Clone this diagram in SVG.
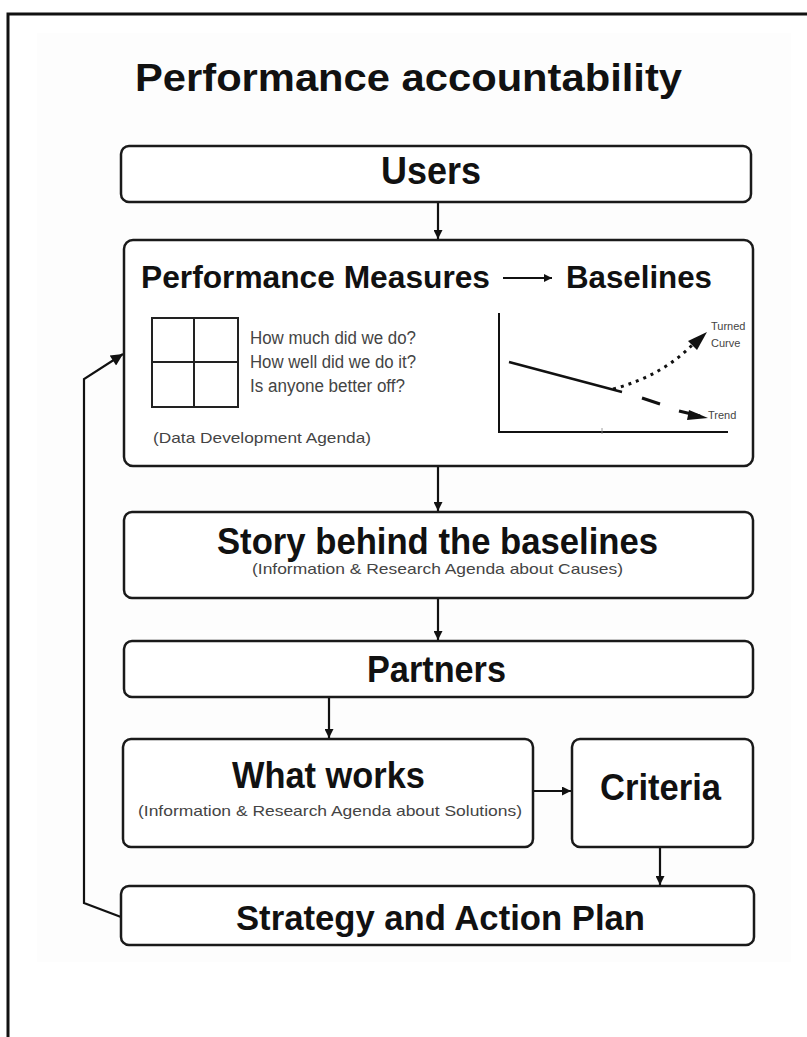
<svg xmlns="http://www.w3.org/2000/svg" width="807" height="1037" viewBox="0 0 807 1037">
<defs>
<style>
.box{fill:#fff;stroke:#1a1a1a;stroke-width:2.5}
.big{font-family:"Liberation Sans",Arial,sans-serif;font-weight:bold;fill:#111}
.small{font-family:"Liberation Sans",Arial,sans-serif;fill:#444}
.conn{fill:none;stroke:#111;stroke-width:2.2}
</style>
<marker id="ah" viewBox="0 0 10 10" refX="10" refY="5" markerWidth="12" markerHeight="9" markerUnits="userSpaceOnUse" orient="auto">
<path d="M0,0 L10,5 L0,10 Z" fill="#111"/>
</marker>
<marker id="ahb" viewBox="0 0 10 10" refX="10" refY="5" markerWidth="16" markerHeight="12" markerUnits="userSpaceOnUse" orient="auto">
<path d="M0,0 L10,5 L0,10 Z" fill="#111"/>
</marker>
<marker id="ahs" viewBox="0 0 10 10" refX="10" refY="5" markerWidth="5" markerHeight="4" orient="auto">
<path d="M0,0 L10,5 L0,10 Z" fill="#111"/>
</marker>
</defs>
<rect x="0" y="0" width="807" height="1037" fill="#fff"/>
<rect x="37" y="33" width="754" height="929" fill="#fdfdfd"/>
<rect x="8" y="14" width="1000" height="1200" fill="none" stroke="#111" stroke-width="3"/>
<text class="big" x="135" y="91" font-size="38" textLength="547" lengthAdjust="spacingAndGlyphs">Performance accountability</text>

<g id="connectors">
<line class="conn" x1="438" y1="202" x2="438" y2="239" marker-end="url(#ah)"/>
<line class="conn" x1="438" y1="466" x2="438" y2="511" marker-end="url(#ah)"/>
<line class="conn" x1="438" y1="598" x2="438" y2="640" marker-end="url(#ah)"/>
<line class="conn" x1="329" y1="697" x2="329" y2="738" marker-end="url(#ah)"/>
<line class="conn" x1="533" y1="791" x2="571" y2="791" marker-end="url(#ah)"/>
<line class="conn" x1="660" y1="847" x2="660" y2="885" marker-end="url(#ah)"/>
<polyline class="conn" stroke-width="3" points="121,917 84,903 84,379 123,354" marker-end="url(#ahb)"/>
</g>

<g id="users">
<rect class="box" x="121" y="146" width="630" height="56" rx="8"/>
<text class="big" x="381" y="184" font-size="38" textLength="100" lengthAdjust="spacingAndGlyphs">Users</text>
</g>

<g id="performance">
<rect class="box" x="124" y="240" width="629" height="226" rx="9"/>
<text class="big" x="141" y="288" font-size="32" textLength="349" lengthAdjust="spacingAndGlyphs">Performance Measures</text>
<line x1="503" y1="278" x2="552" y2="278" stroke="#111" stroke-width="2" marker-end="url(#ahs)"/>
<text class="big" x="566" y="288" font-size="32" textLength="146" lengthAdjust="spacingAndGlyphs">Baselines</text>
<g fill="none" stroke="#222" stroke-width="2">
<rect x="152" y="318" width="86" height="89"/>
<line x1="194" y1="318" x2="194" y2="407"/>
<line x1="152" y1="362" x2="238" y2="362"/>
</g>
<text class="small" x="250" y="344" font-size="18" textLength="166" lengthAdjust="spacingAndGlyphs">How much did we do?</text>
<text class="small" x="250" y="368" font-size="18" textLength="166" lengthAdjust="spacingAndGlyphs">How well did we do it?</text>
<text class="small" x="250" y="392" font-size="18" textLength="155" lengthAdjust="spacingAndGlyphs">Is anyone better off?</text>
<text class="small" x="153" y="443" font-size="15" textLength="218" lengthAdjust="spacingAndGlyphs">(Data Development Agenda)</text>
<g fill="none" stroke="#111">
<polyline points="499,313 499,432 728,432" stroke-width="2"/>
<line x1="602" y1="428" x2="602" y2="434" stroke-width="0.8" stroke="#888"/>
<line x1="509" y1="362" x2="622" y2="392" stroke-width="2.5"/>
<path d="M613,389 Q665,375 696,341" stroke-width="3" stroke-dasharray="3 5"/>
<line x1="642" y1="398" x2="660" y2="404" stroke-width="3"/>
<line x1="679" y1="411" x2="700" y2="416" stroke-width="3"/>
</g>
<path d="M707,332 L688,341 L697,350 Z" fill="#111"/>
<path d="M708,418 L689,410 L687,420 Z" fill="#111"/>
<text class="small" x="711" y="330" font-size="11" fill="#333">Turned</text>
<text class="small" x="711" y="347" font-size="11" fill="#333">Curve</text>
<text class="small" x="708" y="419" font-size="11" fill="#333">Trend</text>
</g>

<g id="story">
<rect class="box" x="124" y="512" width="629" height="86" rx="8"/>
<text class="big" x="217" y="554" font-size="36" textLength="441" lengthAdjust="spacingAndGlyphs">Story behind the baselines</text>
<text class="small" x="252" y="574" font-size="15" textLength="371" lengthAdjust="spacingAndGlyphs">(Information &amp; Research Agenda about Causes)</text>
</g>

<g id="partners">
<rect class="box" x="124" y="641" width="629" height="56" rx="8"/>
<text class="big" x="367" y="682" font-size="36" textLength="139" lengthAdjust="spacingAndGlyphs">Partners</text>
</g>

<g id="whatworks">
<rect class="box" x="123" y="739" width="410" height="108" rx="8"/>
<text class="big" x="232" y="788" font-size="36" textLength="193" lengthAdjust="spacingAndGlyphs">What works</text>
<text class="small" x="138" y="816" font-size="15" textLength="384" lengthAdjust="spacingAndGlyphs">(Information &amp; Research Agenda about Solutions)</text>
</g>

<g id="criteria">
<rect class="box" x="572" y="739" width="181" height="108" rx="8"/>
<text class="big" x="600" y="800" font-size="36" textLength="121" lengthAdjust="spacingAndGlyphs">Criteria</text>
</g>

<g id="strategy">
<rect class="box" x="121" y="886" width="633" height="59" rx="8"/>
<text class="big" x="236" y="930" font-size="35" textLength="409" lengthAdjust="spacingAndGlyphs">Strategy and Action Plan</text>
</g>
</svg>
